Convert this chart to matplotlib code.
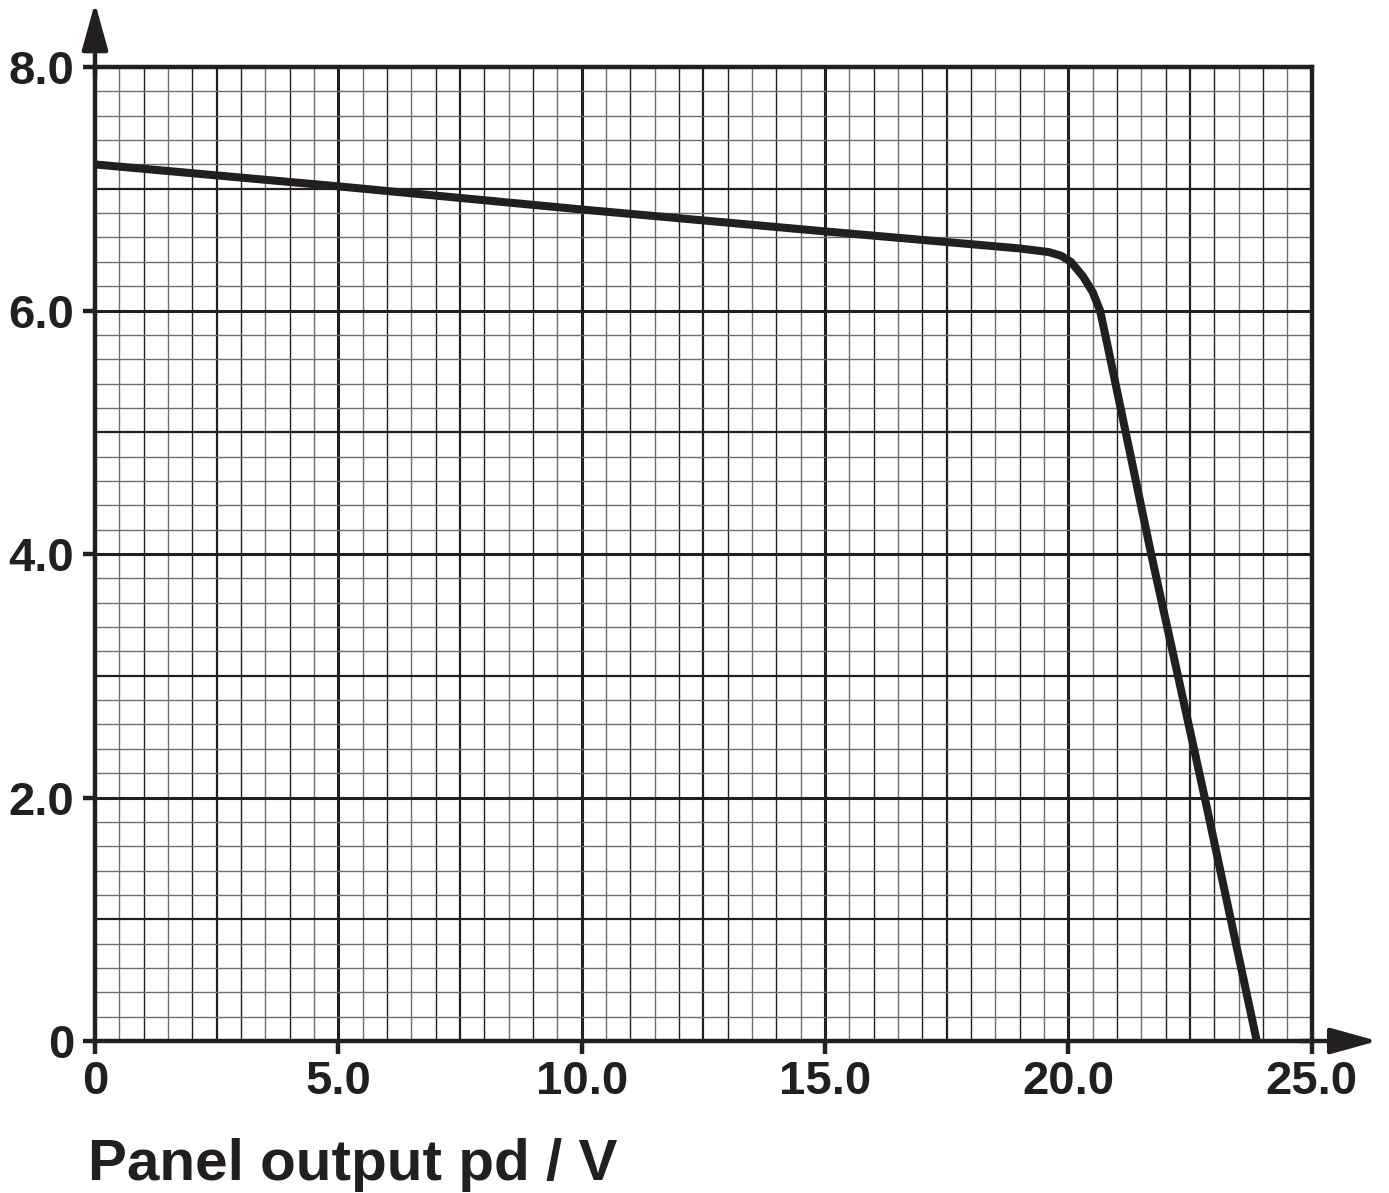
import numpy as np
import matplotlib.pyplot as plt

# curve
pd_v = [0, 5.0, 10.0, 15.0, 19.0, 19.6, 19.85, 20.05, 20.3, 20.5, 20.65, 20.8, 21.7, 22.8, 23.87]
cur_a = [7.2, 7.02, 6.83, 6.65, 6.51, 6.48, 6.45, 6.40, 6.28, 6.15, 6.0, 5.72, 4.0, 2.0, 0.0]

xticks = [0, 5, 10, 15, 20, 25]
xlabels = ['0', '5.0', '10.0', '15.0', '20.0', '25.0']
yticks = [0, 2, 4, 6, 8]
ylabels = ['0', '2.0', '4.0', '6.0', '8.0']

plt.rcParams['font.family'] = ['Liberation Sans', 'DejaVu Sans']
plt.rcParams['font.weight'] = 'bold'

fig = plt.figure(figsize=(13.89, 11.93), dpi=100)
ax = fig.add_axes([0.0684, 0.1274, 0.876, 0.8164])
ax.set_xlim(0, 25)
ax.set_ylim(0, 8)

ink = '#231f20'
# graph paper
for x in np.arange(0.5, 25, 0.5):
    if x % 5 == 0:
        lw, c = 2.2, ink
    elif x % 2.5 == 0:
        lw, c = 1.6, ink
    elif x % 1 == 0:
        lw, c = 1.0, ink
    else:
        lw, c = 1.0, '#6e6e6e'
    ax.axvline(x, color=c, lw=lw, zorder=1)
for y in np.arange(0.2, 8, 0.2):
    y = round(y, 1)
    if y % 2 == 0:
        lw, c = 2.2, ink
    elif y % 1 == 0:
        lw, c = 1.6, ink
    else:
        lw, c = 1.0, '#6e6e6e'
    ax.axhline(y, color=c, lw=lw, zorder=1)

ax.plot(pd_v, cur_a, color=ink, lw=5.8, solid_capstyle='butt', zorder=3)

for s in ax.spines.values():
    s.set_linewidth(3.2)
    s.set_color(ink)
    s.set_zorder(4)

ax.set_xticks(xticks)
ax.set_xticklabels(xlabels)
ax.set_yticks(yticks)
ax.set_yticklabels(ylabels)
ax.tick_params(axis='both', length=9, width=3.2, color=ink, labelsize=34, labelcolor=ink)
ax.tick_params(axis='x', pad=5)
ax.tick_params(axis='y', pad=6)

# axis arrows
arr = dict(arrowstyle='-|>,head_length=1.44,head_width=0.4', lw=3.2, color=ink,
           mutation_scale=20, shrinkA=0, shrinkB=0)
ax.annotate('', xy=(0, 1.066), xytext=(0, 0.99), xycoords='axes fraction',
            arrowprops=arr, annotation_clip=False)
ax.annotate('', xy=(1.054, 0), xytext=(0.99, 0), xycoords='axes fraction',
            arrowprops=arr, annotation_clip=False)

fig.text(88 / 1389, 1 - 1180 / 1193, 'Panel output pd / V', fontsize=42, fontweight='bold',
         color=ink, ha='left', va='baseline')

fig.savefig('out.png', dpi=100)
